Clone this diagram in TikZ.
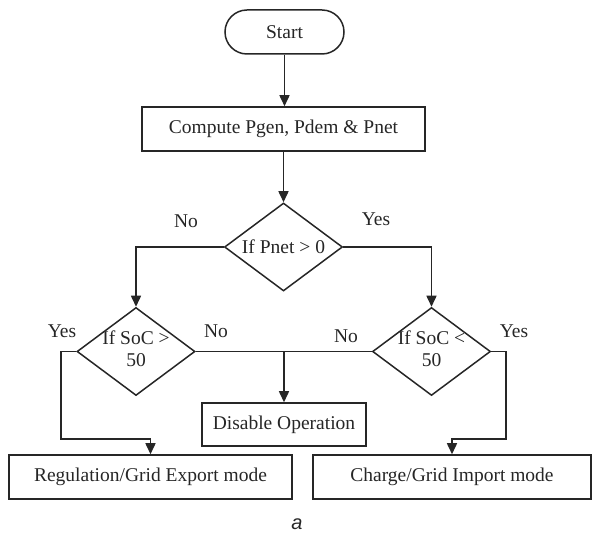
\documentclass[tikz,border=0pt]{standalone}
\usepackage{fontspec}
\setmainfont{Liberation Serif}
\newfontfamily\captionfont{Liberation Sans}
\usetikzlibrary{shapes.geometric,arrows.meta}

\tikzset{
  every node/.style={font=\fontsize{19.5}{22}\selectfont, text=black!85},
  flow/.style={line width=1.5pt, draw=black!85},
  arrowline/.style={flow, -{Triangle[width=10pt,length=11pt]}},
  terminal/.style={flow, rectangle, rounded corners=22pt, minimum width=119pt, minimum height=44pt, inner sep=0pt},
  procbox/.style={flow, rectangle, minimum height=44pt, inner sep=0pt},
  decision/.style={flow, diamond, minimum width=118pt, minimum height=88pt, inner sep=0pt},
  branch/.style={inner sep=0pt}
}

\begin{document}
\begin{tikzpicture}[x=1pt,y=-1pt]
\useasboundingbox (0,0) rectangle (592,534);

% boxes and decisions
\node[terminal] (start) at (284.5,32) {Start};
\node[procbox, minimum width=283pt] (compute) at (283.5,129) {Compute Pgen, Pdem \& Pnet};
\node[decision] (pnet) at (283.5,247) {\makebox[0pt]{If Pnet > 0}};
\node[decision] (socgt) at (136,351.5) {\makebox[0pt]{\begin{tabular}{@{}c@{}}If SoC >\\50\end{tabular}}};
\node[decision] (soclt) at (431.5,351.5) {\makebox[0pt]{\begin{tabular}{@{}c@{}}If SoC <\\50\end{tabular}}};
\node[procbox, minimum width=164pt, minimum height=43pt] (disable) at (284,424.5) {Disable Operation};
\node[procbox, minimum width=283pt] (export) at (150.5,477) {Regulation/Grid Export mode};
\node[procbox, minimum width=278pt] (import) at (452,477) {Charge/Grid Import mode};

% bends of the outer branches
\coordinate (lbend) at (61,439);
\coordinate (rbend) at (506,439);

% connectors
\draw[arrowline] (start.south) -- (start.south |- compute.north);
\draw[arrowline] (compute.south -| pnet.north) -- (pnet.north);
\draw[arrowline] (pnet.west) -| (socgt.north);
\draw[arrowline] (pnet.east) -| (soclt.north);
\draw[flow] (socgt.east) -- (soclt.west);
\draw[arrowline] (disable.north |- socgt.east) -- (disable.north);
\draw[arrowline] (socgt.west) -| (lbend) -| (export.north);
\draw[arrowline] (soclt.east) -| (rbend) -| (import.north);

% branch labels
\node[branch] (no1) at (186,221) {No};
\node[branch] (yes1) at (376,219) {Yes};
\node[branch] (yes2) at (62,331) {Yes};
\node[branch] (no2) at (216,331) {No};
\node[branch] (no3) at (346,336) {No};
\node[branch] (yes3) at (514,331) {Yes};

% caption
\node[font=\captionfont\itshape\fontsize{20}{22}\selectfont] (cap) at (297,524) {a};
\end{tikzpicture}
\end{document}
